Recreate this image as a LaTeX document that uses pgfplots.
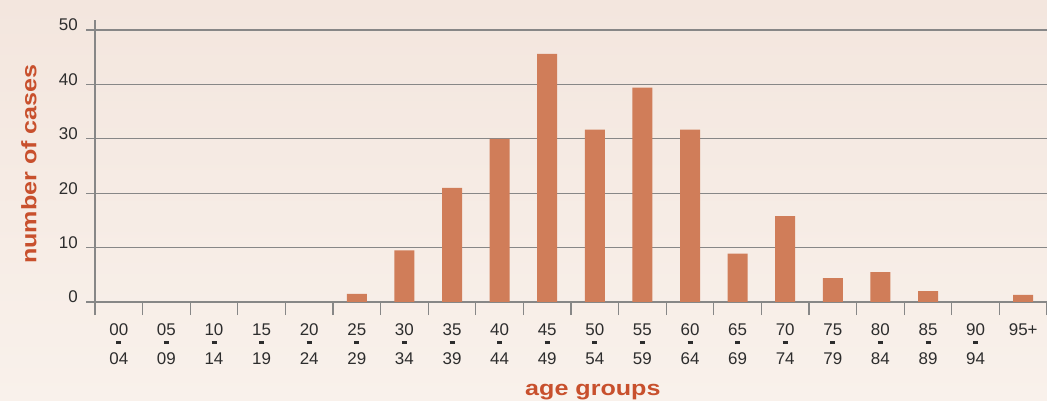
\documentclass[border=0pt]{standalone}
\usepackage{fontspec}
\setmainfont{Liberation Sans}
\newfontfamily\lblfont[FakeStretch=1.2]{Liberation Sans}
\usepackage{pgfplots}
\usepackage{pgfplotstable}
\pgfplotsset{compat=1.18}
\definecolor{bgtop}{RGB}{243,230,222}
\definecolor{bgbot}{RGB}{249,241,235}
\definecolor{barc}{RGB}{208,125,89}
\definecolor{lblc}{RGB}{200,80,45}
\definecolor{gridc}{RGB}{135,135,135}
\definecolor{tickc}{RGB}{45,45,45}
\newcommand\agelab[2]{\rule{0pt}{13bp}#1\\[-8bp]\rule{5bp}{3.3bp}\\[3bp]#2}

\pgfplotstableread{
x y
0 0
1 0
2 0
3 0
4 0
5 1.5
6 9.5
7 21
8 30
9 45.6
10 31.7
11 39.4
12 31.7
13 8.9
14 15.8
15 4.4
16 5.5
17 2
18 0
19 1.3
}\casedata

\begin{document}
\begin{tikzpicture}
\useasboundingbox (0,0) rectangle (1047bp,401bp);
\shade[top color=bgtop, bottom color=bgbot] (0,0) rectangle (1047bp,401bp);
\begin{axis}[
  at={(95bp,99bp)}, anchor=south west, scale only axis,
  width=952bp, height=282bp,
  xmin=-0.5, xmax=19.5, ymin=0, ymax=51.84,
  axis lines*=left,
  axis line style={-, gridc, line width=1.3bp},
  ytick={0,10,20,30,40,50},
  ymajorgrids,
  grid style={gridc, line width=1.3bp},
  xtick={0,...,19},
  xticklabels={\agelab{00}{04},\agelab{05}{09},\agelab{10}{14},\agelab{15}{19},\agelab{20}{24},\agelab{25}{29},\agelab{30}{34},\agelab{35}{39},\agelab{40}{44},\agelab{45}{49},\agelab{50}{54},\agelab{55}{59},\agelab{60}{64},\agelab{65}{69},\agelab{70}{74},\agelab{75}{79},\agelab{80}{84},\agelab{85}{89},\agelab{90}{94},\rule{0pt}{13bp}95+},
  minor xtick={-0.5,0.5,...,19.5},
  tick align=outside,
  major tick length=9bp,
  minor tick length=13bp,
  tick style={gridc, line width=1.3bp},
  major x tick style={draw=none},
  /pgf/number format/assume math mode=true,
  ticklabel style={font=\fontsize{17}{17}\selectfont, text=tickc},
  xticklabel style={anchor=north, inner sep=0pt, align=center, yshift=-11bp},
  yticklabel style={anchor=east, inner sep=0pt, yshift=5bp, xshift=-8bp},
  xlabel={age groups},
  xlabel style={at={(axis description cs:0.523,0)}, anchor=base, yshift=-93bp,
    font={\lblfont\bfseries\fontsize{21}{21}\selectfont}, text=lblc},
  ylabel={number of cases},
  ylabel style={at={(axis description cs:-0.0693,0.489)}, anchor=center, rotate=0,
    font={\lblfont\bfseries\fontsize{21}{21}\selectfont}, text=lblc},
]
\addplot[ybar, bar width=0.42, fill=barc, draw=none] table[x=x,y=y] {\casedata};
\end{axis}
\end{tikzpicture}
\end{document}
